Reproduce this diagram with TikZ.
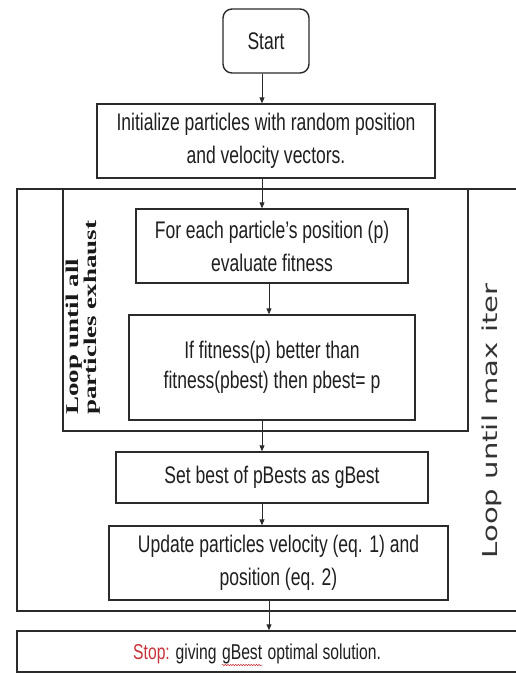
\documentclass[tikz,border=0pt]{standalone}
\usepackage{fontspec}
\setmainfont{Liberation Sans}[FakeStretch=0.73]
\newfontfamily\loopfont{Liberation Serif}[FakeStretch=1.5]
\newfontfamily\iterfont{DejaVu Sans}[FakeStretch=1.42]
\usetikzlibrary{arrows.meta,decorations.pathmorphing}
\definecolor{edge}{HTML}{2B2B2B}
\definecolor{stopred}{HTML}{C8323A}
\begin{document}
\begin{tikzpicture}[x=1pt,y=-1pt,
  flow/.style={draw=edge, line width=1.4pt, inner sep=0pt, align=center,
    font=\fontsize{24}{33}\selectfont, text=black!88},
  arr/.style={draw=edge, line width=0.9pt, -{Triangle[length=6pt,width=5pt]}},
  frame/.style={draw=edge, line width=1.4pt},
  stoptext/.style={inner sep=0pt, font=\fontsize{21.5}{26}\selectfont, text=black!88},
  squiggle/.style={draw=stopred, line width=0.5pt, decorate,
    decoration={snake, amplitude=0.8pt, segment length=2.6pt}}]
\clip (0,0) rectangle (516,673);
\fill[white] (0,0) rectangle (516,673);

% frames
\draw[frame] (17,189) rectangle (530,611);
\draw[frame] (63,189) rectangle (468,431);

% arrow columns
\coordinate (ca) at (262,0);
\coordinate (cb) at (269,0);

% nodes
\node[flow, rounded corners=9pt, minimum width=86pt, minimum height=64pt] (start) at (266,41) {Start};
\node[flow, minimum width=338pt, minimum height=74pt] (init) at (266,141)
  {Initialize particles with random position\\and velocity vectors.};
\node[flow, minimum width=272pt, minimum height=74pt] (eval) at (272,246)
  {For each particle's position (p)\\evaluate fitness};
\node[flow, minimum width=286pt, minimum height=105pt, font=\fontsize{24}{30}\selectfont] (pbest) at (272,367.5)
  {If fitness(p) better than\\fitness(pbest) then pbest= p};
\node[flow, minimum width=312pt, minimum height=51pt] (gbest) at (272,477.5)
  {Set best of pBests as gBest};
\node[flow, minimum width=339pt, minimum height=74pt] (update) at (278.5,563)
  {Update particles velocity (eq. 1) and\\position (eq. 2)};
\node[draw=edge, line width=1.4pt, minimum width=513pt, minimum height=41pt, inner sep=0pt] (stop) at (273.5,651.5) {};

% stop text
\node[stoptext, anchor=base west] (stopA) at (133,659) {\textcolor{stopred}{Stop:} giving};
\node[stoptext, anchor=base west] (stopB) at ([xshift=5pt]stopA.base east) {gBest};
\node[stoptext, anchor=base west] (stopC) at ([xshift=5pt]stopB.base east) {optimal solution.};
\draw[squiggle] ([yshift=-6pt]stopB.base west) -- ([yshift=-6pt]stopB.base east);

% loop labels
\node[rotate=90, anchor=west, align=left, inner sep=0pt,
  font=\loopfont\bfseries\fontsize{18}{18}\selectfont, text=black!90] (inloop) at (83,415)
  {Loop until all\\particles exhaust};
\node[rotate=90, inner sep=0pt, font=\iterfont\fontsize{20.5}{24}\selectfont, text=black!80] (maxiter) at (492,421)
  {Loop until max iter};

% connectors
\draw[arr] (start.south -| ca) -- (init.north -| ca);
\draw[arr] (init.south -| ca) -- (eval.north -| ca);
\draw[arr] (eval.south -| cb) -- (pbest.north -| cb);
\draw[arr] (pbest.south -| ca) -- (gbest.north -| ca);
\draw[arr] (gbest.south -| ca) -- (update.north -| ca);
\draw[arr] (update.south -| cb) -- (stop.north -| cb);
\end{tikzpicture}
\end{document}
